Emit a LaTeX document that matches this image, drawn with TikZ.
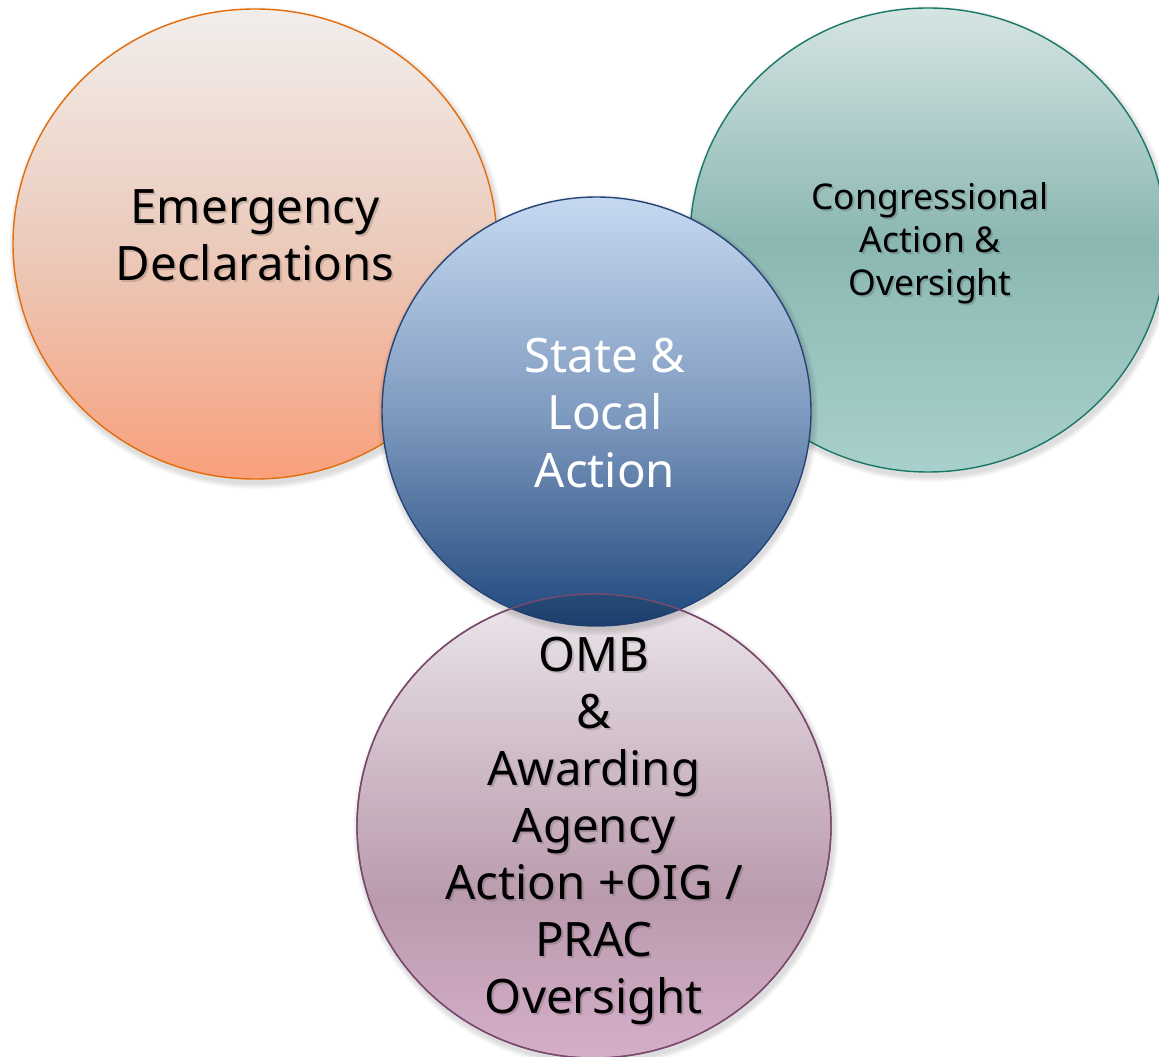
\documentclass[tikz,border=0pt]{standalone}
\usepackage{fontspec}
\setmainfont{Noto Sans}

\definecolor{declline}{HTML}{E46C0A}
\definecolor{decltop}{HTML}{F2EEEC}
\definecolor{declmid}{HTML}{EBCBBC}
\definecolor{declbot}{HTML}{F9A07C}
\definecolor{congline}{HTML}{1B7768}
\definecolor{congtop}{HTML}{D5E4E3}
\definecolor{congmid}{HTML}{8BB7B2}
\definecolor{congbot}{HTML}{A8D0CC}
\definecolor{stateline}{HTML}{264478}
\definecolor{statetop}{HTML}{C6D9F1}
\definecolor{statemid}{HTML}{809BC0}
\definecolor{statebot}{HTML}{1F487C}
\definecolor{ombline}{HTML}{7A4A6E}
\definecolor{ombtop}{HTML}{ECE7EB}
\definecolor{ombmid}{HTML}{BA9BAE}
\definecolor{ombbot}{HTML}{D5AECA}

\pgfdeclareverticalshading{ombfill}{100bp}{color(0bp)=(ombbot); color(25bp)=(ombbot);
  color(42bp)=(ombmid); color(58bp)=(ombmid!55!ombtop); color(75bp)=(ombtop); color(100bp)=(ombtop)}

\def\bigfont{\fontsize{27}{32.5}\selectfont}
\def\smallfont{\fontsize{20.2}{24.4}\selectfont}

\begin{document}
\begin{tikzpicture}[x=0.02cm, y=-0.02cm, line cap=round,
    bubble/.style={line width=0.8pt},
    halo/.style={fill=black, fill opacity=0.025},
    words/.style={align=center, inner sep=0pt, font=\bigfont},
    wordshade/.style={words, text=black, text opacity=0.15}
  ]
  \useasboundingbox (0,0) rectangle (1159,1057);

  % soft shadows
  \foreach \s in {1,...,6}{
    \fill [halo] (257,248) ellipse [x radius=242+\s, y radius=235+\s];
    \fill [halo] (930,244) ellipse [x radius=238+\s, y radius=232+\s];
    \fill [halo] (596,830) ellipse [x radius=237+\s, y radius=232+\s];
  }

  % bubbles
  \draw [bubble, draw=declline, top color=decltop, bottom color=declbot, middle color=declmid]
    (255,244) ellipse [x radius=242, y radius=235];
  \draw [bubble, draw=congline, top color=congtop, bottom color=congbot, middle color=congmid]
    (928,240) ellipse [x radius=238, y radius=232];
  \draw [bubble, draw=ombline, shading=ombfill]
    (594,826) ellipse [x radius=237, y radius=232];

  \foreach \s in {1,...,6}
    \fill [halo] (598,415) circle [radius=214.5+\s];
  \draw [bubble, draw=stateline, top color=statetop, bottom color=statebot, middle color=statemid]
    (596.5,411.5) circle [radius=214.5];

  % overlap of state and omb
  \begin{scope}
    \clip (596.5,411.5) circle [radius=214.5];
    \fill [black, fill opacity=0.12] (594,826) ellipse [x radius=237, y radius=232];
  \end{scope}
  \draw [bubble, draw=ombline] (594,826) ellipse [x radius=237, y radius=232];

  % labels
  \node [wordshade] at (257,237) {Emergency\\Declarations};
  \node [words] (decl) at (255,235) {Emergency\\Declarations};

  \node [wordshade, font=\smallfont] at (932,245) {Congressional\\Action \&\\Oversight};
  \node [words, font=\smallfont] (cong) at (930,243) {Congressional\\Action \&\\Oversight};

  \node [words, text=white] (state) at (605,413) {State \&\\Local\\Action};

  \node [wordshade] at (596,833) {OMB\\\&\\Awarding\\Agency\\Action +OIG /\\PRAC\\Oversight};
  \node [words] (omb) at (594,831) {OMB\\\&\\Awarding\\Agency\\Action +OIG /\\PRAC\\Oversight};

\end{tikzpicture}
\end{document}
